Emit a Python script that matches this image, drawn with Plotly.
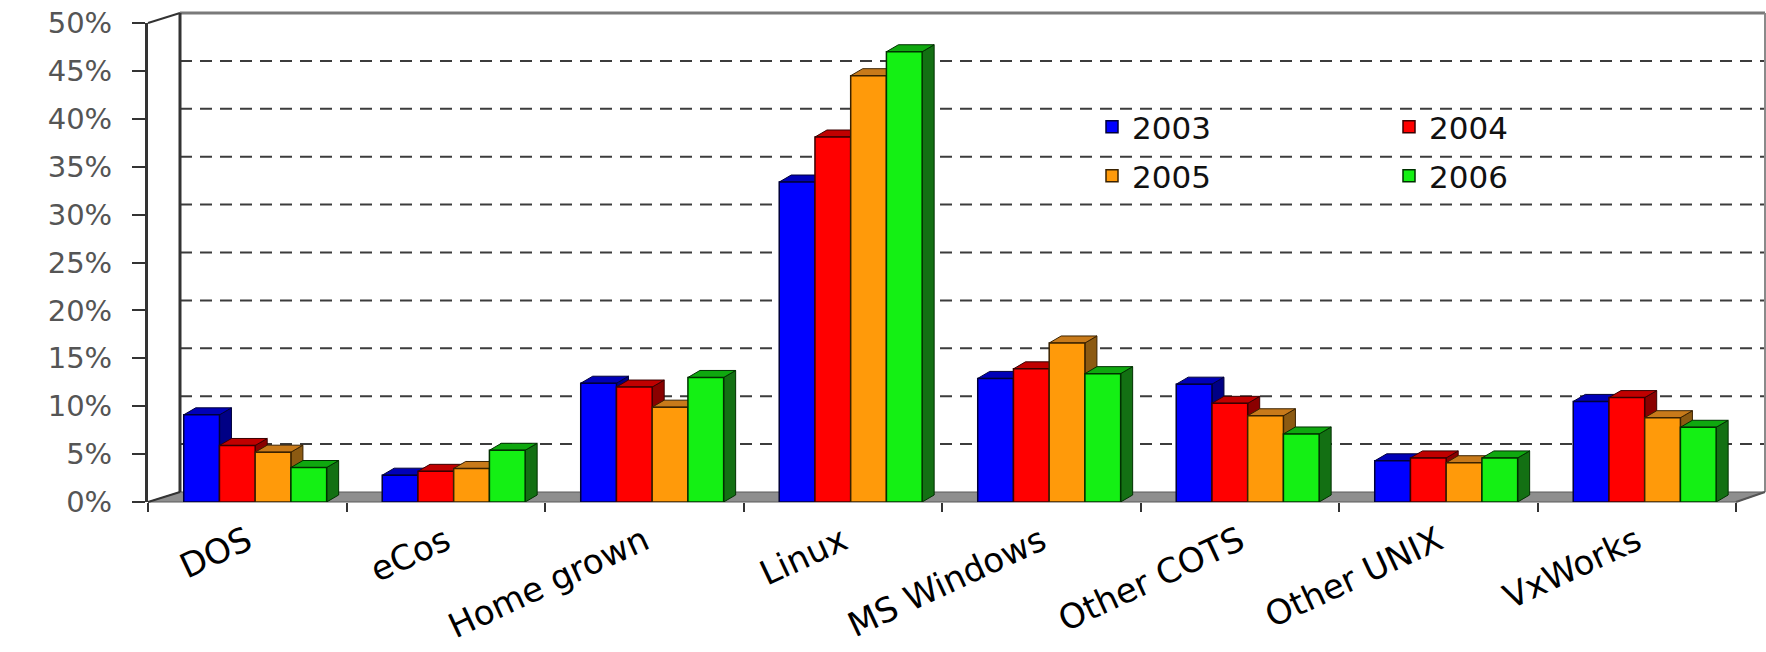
import plotly.graph_objects as go

# ---------------- data ----------------
categories = ["DOS", "eCos", "Home grown", "Linux", "MS Windows",
              "Other COTS", "Other UNIX", "VxWorks"]
years = ["2003", "2004", "2005", "2006"]
share_2003 = [9.1, 2.8, 12.4, 33.4, 12.9, 12.3, 4.3, 10.5]
share_2004 = [5.9, 3.2, 12.0, 38.1, 13.9, 10.3, 4.6, 10.9]
share_2005 = [5.2, 3.5, 9.9, 44.5, 16.6, 9.0, 4.1, 8.8]
share_2006 = [3.6, 5.4, 13.0, 47.0, 13.4, 7.1, 4.6, 7.8]
y_ticks = [0, 5, 10, 15, 20, 25, 30, 35, 40, 45, 50]
y_tick_labels = [f"{v}%" for v in y_ticks]

series = [share_2003, share_2004, share_2005, share_2006]
front_colors = ["#0000FF", "#FF0000", "#FF9A0A", "#14F014"]
edge_colors = ["#00003A", "#3A0000", "#3A2200", "#003000"]
side_colors = ["#000085", "#8A0000", "#8C5A12", "#137013"]
top_colors = ["#0000B8", "#C00000", "#C87A1A", "#0FA80F"]
legend_ids = ["legend", "legend", "legend2", "legend2"]

# ---------------- layout geometry ----------------
W, H = 1766, 652
L, R, T, B = 148, 30, 23, 150
PW = W - L - R
PH = H - T - B
Y0 = H - B                       # pixel row of 0 %
cat_px = PW / len(categories)
per_pct = PH / 50.0

def X(px):
    return (px - L) / PW

def Y(py):
    return (Y0 - py) / PH

bar_w = 0.18
offsets = [-0.32, -0.14, 0.04, 0.22]
depth_dx = 12 / cat_px           # category units
depth_dy = 7 / per_pct           # percent units
back_dy = 10 / per_pct           # back wall raised by 10 px
back_left, back_right, back_top = 180, 1765, 13

fig = go.Figure()
shapes = []

# floor
shapes.append(dict(type="path", xref="paper", yref="paper", layer="below",
                   path=f"M{X(L)},{Y(Y0)} L{X(L + PW)},{Y(Y0)} L{X(back_right)},{Y(Y0 - 10)} "
                        f"L{X(back_left)},{Y(Y0 - 10)} Z",
                   fillcolor="#8E8E8E", line=dict(color="#5A5A5A", width=1)))
# gridlines on the back wall
for v in y_ticks[1:-1]:
    shapes.append(dict(type="line", xref="paper", yref="y", layer="below",
                       x0=X(back_left), x1=X(back_right), y0=v + back_dy, y1=v + back_dy,
                       line=dict(color="#3C3C3C", width=2, dash="12px,8px")))
# back wall frame
shapes.append(dict(type="line", xref="paper", yref="paper", layer="below",
                   x0=X(back_left), x1=X(back_right), y0=Y(back_top), y1=Y(back_top),
                   line=dict(color="#7A7A7A", width=3)))
shapes.append(dict(type="line", xref="paper", yref="paper", layer="below",
                   x0=X(back_right), x1=X(back_right), y0=Y(back_top), y1=Y(Y0 - 10),
                   line=dict(color="#8A8A8A", width=2)))
shapes.append(dict(type="line", xref="paper", yref="paper", layer="below",
                   x0=X(back_left), x1=X(back_left), y0=Y(back_top), y1=Y(Y0 - 10),
                   line=dict(color="#333333", width=3)))
shapes.append(dict(type="line", xref="paper", yref="paper", layer="below",
                   x0=X(L), x1=X(back_left), y0=Y(T), y1=Y(back_top),
                   line=dict(color="#333333", width=2)))
shapes.append(dict(type="line", xref="paper", yref="paper", layer="below",
                   x0=X(L), x1=X(back_left), y0=Y(Y0), y1=Y(Y0 - 10),
                   line=dict(color="#333333", width=2)))
shapes.append(dict(type="line", xref="paper", yref="paper", layer="below",
                   x0=X(L + PW), x1=X(back_right), y0=Y(Y0), y1=Y(Y0 - 10),
                   line=dict(color="#555555", width=2)))

xs = list(range(len(categories)))
for i, (yr, vals) in enumerate(zip(years, series)):
    fig.add_trace(go.Bar(
        x=xs, y=vals, name=yr, width=bar_w, offset=offsets[i],
        marker=dict(color=front_colors[i], line=dict(color=edge_colors[i], width=1.5)),
        legend=legend_ids[i],
    ))
    # pseudo-3D side and top faces derived from the bar values
    for c, v in zip(xs, vals):
        x0 = c + offsets[i]
        x1 = x0 + bar_w
        side = (f"M{x1},0 L{x1 + depth_dx},{depth_dy} L{x1 + depth_dx},{v + depth_dy} "
                f"L{x1},{v} Z")
        top = (f"M{x0},{v} L{x0 + depth_dx},{v + depth_dy} L{x1 + depth_dx},{v + depth_dy} "
               f"L{x1},{v} Z")
        shapes.append(dict(type="path", xref="x", yref="y", layer="between", path=side,
                           fillcolor=side_colors[i], line=dict(color=edge_colors[i], width=1)))
        shapes.append(dict(type="path", xref="x", yref="y", layer="between", path=top,
                           fillcolor=top_colors[i], line=dict(color=edge_colors[i], width=1)))

legend_font = dict(family="DejaVu Sans", size=31, color="#111111")
fig.update_layout(
    width=W, height=H, autosize=False,
    margin=dict(l=L, r=R, t=T, b=B, pad=0, autoexpand=False),
    paper_bgcolor="white", plot_bgcolor="white",
    barmode="overlay",
    shapes=shapes,
    legend=dict(orientation="h", x=X(1092), y=Y(127), xanchor="left", yanchor="middle",
                entrywidth=252, entrywidthmode="pixels", font=legend_font,
                bgcolor="rgba(0,0,0,0)", traceorder="normal"),
    legend2=dict(orientation="h", x=X(1092), y=Y(176), xanchor="left", yanchor="middle",
                 entrywidth=252, entrywidthmode="pixels", font=legend_font,
                 bgcolor="rgba(0,0,0,0)", traceorder="normal"),
    xaxis=dict(type="linear", range=[-0.5, len(categories) - 0.5], automargin=False,
               tickmode="array", tickvals=xs, ticktext=categories,
               ticks="", tickangle=-25, ticklabelstandoff=12,
               tickfont=dict(family="DejaVu Sans", size=34, color="#000000"),
               showgrid=False, zeroline=False, showline=False,
               minor=dict(tickmode="array",
                          tickvals=[c - 0.5 for c in range(len(categories) + 1)],
                          ticks="outside", ticklen=9, tickwidth=2, tickcolor="#333333",
                          showgrid=False)),
    yaxis=dict(range=[0, 50], automargin=False, tickmode="array", tickvals=y_ticks,
               ticktext=y_tick_labels,
               ticks="outside", ticklen=13, tickwidth=2, tickcolor="#333333",
               showline=True, linecolor="#333333", linewidth=3,
               showgrid=False, zeroline=False, ticklabelstandoff=14,
               tickfont=dict(family="DejaVu Sans", size=29, color="#555555")),
)

fig.write_html("out.html")
